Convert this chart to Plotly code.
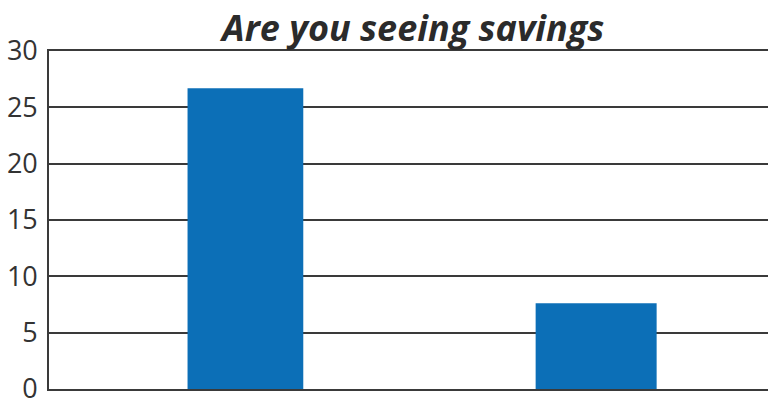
import plotly.graph_objects as go

categories = ["Yes", "No"]
values = [26.7, 7.6]
y_ticks = [0, 5, 10, 15, 20, 25, 30]

fig = go.Figure()
fig.add_trace(go.Bar(
    x=categories, y=values,
    width=[0.33, 0.345],
    marker=dict(color="#0C6FB7", line=dict(width=0)),
))

fig.update_layout(
    width=768, height=406,
    margin=dict(l=49, r=0, t=51, b=17, autoexpand=False),
    paper_bgcolor="white", plot_bgcolor="white",
    showlegend=False,
    title=dict(
        text="<b><i>Are you seeing savings</i></b>",
        x=0.538, xanchor="center", y=0.962, yanchor="top",
        automargin=False,
        font=dict(family="Open Sans", size=36, color="#2b2b2b"),
    ),
    xaxis=dict(
        type="category", range=[-0.56, 1.49],
        showticklabels=False, ticks="", showgrid=False,
        showline=True, mirror=True, linecolor="#3a3a3a", linewidth=2,
        zeroline=False, automargin=False,
    ),
    yaxis=dict(
        range=[0, 30], tickvals=y_ticks,
        showgrid=True, gridcolor="#3a3a3a", gridwidth=1.5,
        showline=True, linecolor="#3a3a3a", linewidth=1.6,
        zeroline=False, ticks="", ticklen=0, automargin=False,
        ticklabelstandoff=4, ticklabeloverflow="allow",
        tickfont=dict(family="Open Sans", size=27, color="#333"),
    ),
)

fig.write_html(
    "out.html",
    config={"displayModeBar": False},
    post_script="document.body.style.margin='0';document.body.style.overflow='hidden';",
)
